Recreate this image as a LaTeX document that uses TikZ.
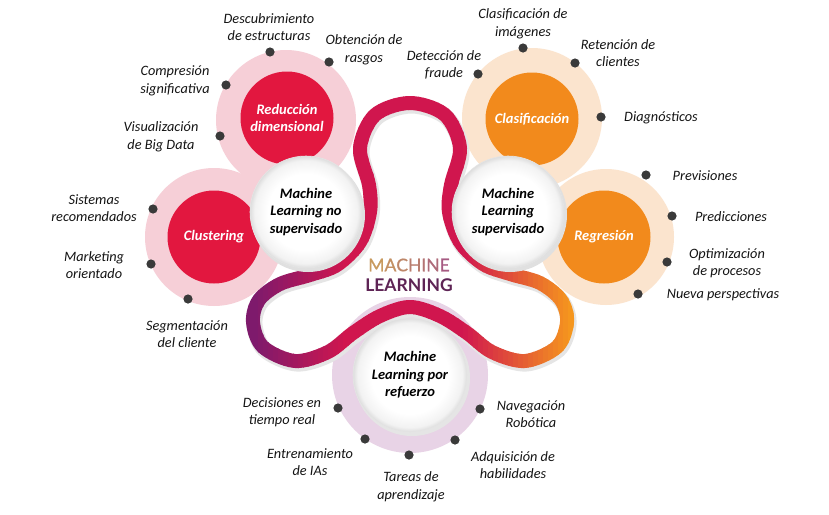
\documentclass[tikz,border=0pt]{standalone}
\usepackage{fontspec}
\setmainfont{Carlito}
\newfontfamily\mlfont{Lato}
\newfontfamily\mlsemi{Lato}[FakeBold=0.9]
\definecolor{ribP}{HTML}{7E1A6C}
\definecolor{ribR}{HTML}{D0164E}
\definecolor{ribO}{HTML}{F5961E}
\definecolor{haloPink}{HTML}{F6CFD7}
\definecolor{redC}{HTML}{E2173F}
\definecolor{haloPeach}{HTML}{FBE4CE}
\definecolor{orangeC}{HTML}{F28A1C}
\definecolor{haloLav}{HTML}{E8D3E6}
\definecolor{dotC}{HTML}{3A3A3A}
\definecolor{txtC}{HTML}{141414}
\definecolor{mlA}{HTML}{C89A5E}
\definecolor{mlB}{HTML}{A65A82}
\definecolor{mlL}{HTML}{5E2455}
\pgfdeclareradialshading{wbtn}{\pgfpoint{0bp}{0bp}}{color(0bp)=(white); color(17bp)=(white); color(23bp)=(black!5); color(25bp)=(black!13); color(50bp)=(black!13)}
\begin{document}
\begin{tikzpicture}[x=1pt,y=-1pt,
  lbl/.style={align=center, font=\fontsize{14.3}{17.5}\selectfont\itshape, text=txtC, inner sep=0pt},
  halo/.style={circle, inner sep=0pt, minimum size=#1, draw=none},
  core/.style={circle, inner sep=0pt, minimum size=93pt, align=center, text=white,
    font=\fontsize{14.5}{17.5}\selectfont\bfseries\itshape},
  wcirc/.style={circle, inner sep=0pt, minimum size=#1, shade, shading=wbtn, draw=black!10,
    line width=0.6pt, align=center, text=black, font=\fontsize{14.5}{17.5}\selectfont\bfseries\itshape},
  dotc/.style={fill=dotC},
  ribbon/.style={line width=14pt, line join=round}
]
\useasboundingbox[fill=white] (0,0) rectangle (829,514);

% halos
\node[halo=140pt, fill=haloPink] (h1) at (286,120) {};
\node[halo=138pt, fill=haloPink] (h2) at (214,237) {};
\node[halo=140pt, fill=haloPeach] (h3) at (532,118) {};
\node[halo=136pt, fill=haloPeach] (h4) at (606,237) {};
\node[halo=156pt, fill=haloLav] (h5) at (410,375) {};

% coloured cores
\node[core, fill=redC] (red1) at (287,118) {Reducción\\dimensional};
\node[core, fill=redC] (clu) at (214,237) {Clustering};
\node[core, fill=orangeC] (cla) at (532,119) {Clasificación};
\node[core, fill=orangeC] (reg) at (604,237) {Regresión};

% dots
\foreach \p in {(270,52),(329,62),(226,85),(220,136),
                (153,209),(151,264),(188,299),
                (523,48),(575,63),(478,74),(601,117),
                (646,175),(672,216),(667,262),(638,294),
                (338,408),(365,439),(409,455),(455,440),(480,409)}
  \fill[dotc] \p circle (4.6pt);

% ribbon shadow
\begin{scope}[shift={(1.5,2.5)}]
\draw[ribbon, draw=black!10, line width=16pt] plot[smooth cycle, tension=0.55] coordinates {
 (410,103) (445,115) (460,148) (451,185) (449,212) (460,242) (483,264) (510,274)
 (540,283) (561,300) (567,322) (557,347) (525,361) (492,352) (467,333) (440,316)
 (410,307) (380,316) (353,333) (328,352) (295,361) (263,347) (253,322) (259,300)
 (280,284) (310,275) (337,265) (360,242) (370,212) (369,185) (360,148) (375,115)};
\end{scope}

% ribbon with horizontal gradient
\foreach \i in {0,...,67} {
  \pgfmathsetmacro\xa{243+5*\i}
  \pgfmathsetmacro\xb{\xa+5.6}
  \pgfmathsetmacro\xc{\xa+2.5}
  \pgfmathtruncatemacro\pl{max(0,min(100,(\xc-255)/90*100))}
  \pgfmathtruncatemacro\pr{max(0,min(100,(\xc-462)/108*100))}
  \colorlet{stripc}{ribR!\pl!ribP}
  \colorlet{stripc}{ribO!\pr!stripc}
  \begin{scope}
    \clip (\xa,0) rectangle (\xb,514);
    \draw[ribbon, draw=stripc] plot[smooth cycle, tension=0.55] coordinates {
 (410,103) (445,115) (460,148) (451,185) (449,212) (460,242) (483,264) (510,274)
 (540,283) (561,300) (567,322) (557,347) (525,361) (492,352) (467,333) (440,316)
 (410,307) (380,316) (353,333) (328,352) (295,361) (263,347) (253,322) (259,300)
 (280,284) (310,275) (337,265) (360,242) (370,212) (369,185) (360,148) (375,115)};
  \end{scope}
}

% shadows of white circles
\fill[black!12] (308,215) circle (57pt);
\fill[black!12] (510,215) circle (57pt);
\fill[black!10] (412,378) circle (58pt);

% white circles
\node[wcirc=112pt] (ns) at (306,212) {Machine\\Learning no\\supervisado};
\node[wcirc=112pt] (su) at (508,212) {Machine\\Learning\\supervisado};
\node[wcirc=114pt] (re) at (410,375) {Machine\\Learning por\\refuerzo};

% centre title
\node[inner sep=0pt, font=\fontsize{17.5}{19}\selectfont\mlsemi] (ml1) at (409,265)
  {\textcolor{mlA}{M}\textcolor{mlA!85!mlB}{A}\textcolor{mlA!70!mlB}{C}\textcolor{mlA!55!mlB}{H}\textcolor{mlA!40!mlB}{I}\textcolor{mlA!25!mlB}{N}\textcolor{mlB}{E}};
\node[inner sep=0pt, font=\fontsize{17.5}{19}\selectfont\mlfont\bfseries, text=mlL] (ml2) at (409,285) {LEARNING};

% labels
\node[lbl] (l1) at (269,27) {Descubrimiento\\de estructuras};
\node[lbl] (l2) at (364,50) {Obtención de\\rasgos};
\node[lbl] (l3) at (175,81) {Compresión\\significativa};
\node[lbl] (l4) at (161,137) {Visualización\\de Big Data};
\node[lbl] (l5) at (94,208) {Sistemas\\recomendados};
\node[lbl] (l6) at (94,265) {Marketing\\orientado};
\node[lbl] (l7) at (187,334) {Segmentación\\del cliente};
\node[lbl] (l8) at (444,65) {Detección de\\fraude};
\node[lbl] (l9) at (523,24) {Clasificación de\\imágenes};
\node[lbl] (l10) at (618,53) {Retención de\\clientes};
\node[lbl] (l11) at (661,118) {Diagnósticos};
\node[lbl] (l12) at (705,176) {Previsiones};
\node[lbl] (l13) at (731,217) {Predicciones};
\node[lbl] (l14) at (727,263) {Optimización\\de procesos};
\node[lbl] (l15) at (723,295) {Nueva perspectivas};
\node[lbl] (l16) at (282,412) {Decisiones en\\tiempo real};
\node[lbl] (l17) at (310,462) {Entrenamiento\\de IAs};
\node[lbl] (l18) at (411,487) {Tareas de\\aprendizaje};
\node[lbl] (l19) at (513,465) {Adquisición de\\habilidades};
\node[lbl] (l20) at (531,414) {Navegación\\Robótica};
\end{tikzpicture}
\end{document}
